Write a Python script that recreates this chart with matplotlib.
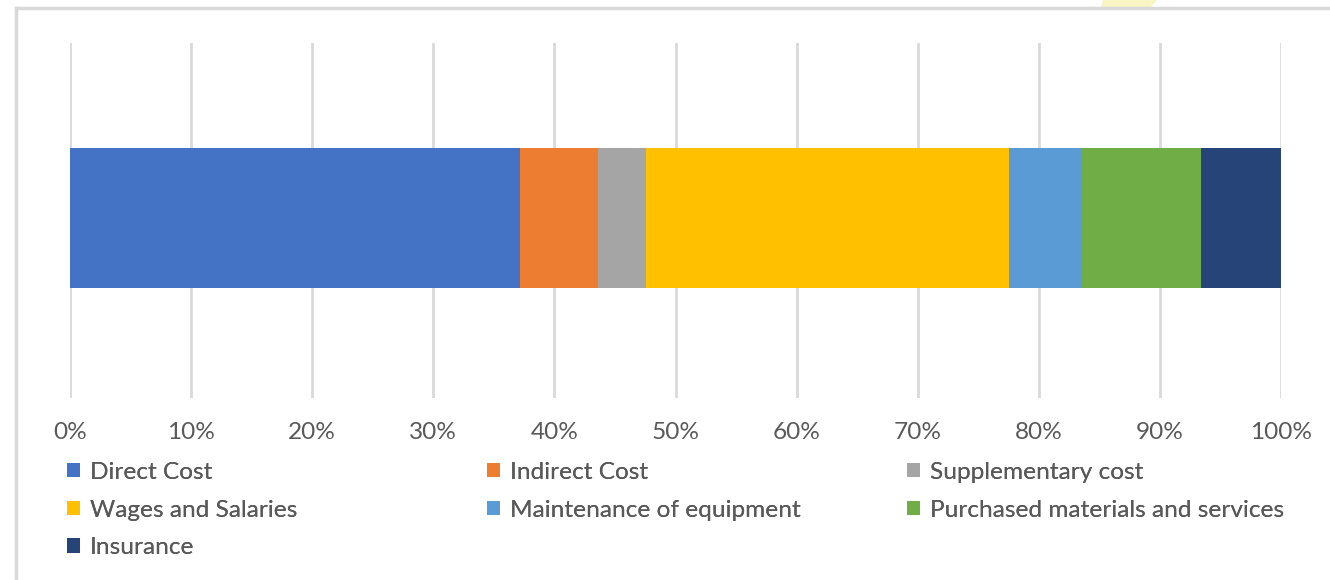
import matplotlib
matplotlib.use('Agg')
import matplotlib.pyplot as plt
from matplotlib.patches import Patch, Polygon
from matplotlib.lines import Line2D
from matplotlib.ticker import FuncFormatter

# cost breakdown, share of total (%)
categories = ['Direct Cost', 'Indirect Cost', 'Supplementary cost',
              'Wages and Salaries', 'Maintenance of equipment',
              'Purchased materials and services', 'Insurance']
shares = [37.2, 6.4, 4.0, 29.9, 6.1, 9.8, 6.6]
colors = ['#4472C4', '#ED7D31', '#A5A5A5', '#FFC000', '#5B9BD5', '#70AD47', '#264478']
xticks = [0, 10, 20, 30, 40, 50, 60, 70, 80, 90, 100]

W, H = 1330, 580
text_col = '#595959'
grid_col = '#d9d9d9'
fsize = 17.6
plt.rcParams['font.family'] = ['Lato', 'DejaVu Sans']

fig = plt.figure(figsize=(W / 100, H / 100), dpi=100)
ax = fig.add_axes([70 / W, 1 - 398 / H, (1281 - 70) / W, (398 - 43) / H])

left = 0
for name, val, col in zip(categories, shares, colors):
    ax.barh(0, val, left=left, height=0.394, color=col, label=name, zorder=3)
    left += val

ax.set_xlim(0, 100)
ax.set_ylim(-0.507, 0.493)
ax.set_xticks(xticks)
ax.xaxis.set_major_formatter(FuncFormatter(lambda v, p: f'{v:.0f}%'))
ax.set_yticks([])
ax.tick_params(axis='x', length=0, pad=17, labelsize=fsize, labelcolor=text_col)
ax.grid(axis='x', color=grid_col, linewidth=2, zorder=0)
for s in ax.spines.values():
    s.set_visible(False)

# legend laid out in three columns, filled row by row
handles = [Patch(facecolor=c, edgecolor='none') for c in colors]
col_x = [67, 487, 907]
for j, x in enumerate(col_x):
    idx = list(range(j, len(categories), 3))
    leg = fig.legend([handles[i] for i in idx], [categories[i] for i in idx],
                     loc='upper left', bbox_to_anchor=(x / W, 1 - 462 / H),
                     frameon=False, fontsize=fsize, labelcolor=text_col,
                     handlelength=0.52, handleheight=0.52, handletextpad=0.42,
                     labelspacing=0.68, borderaxespad=0, borderpad=0)
    fig.add_artist(leg)

# outer chart frame
fig.add_artist(Line2D([16 / W, 1], [1 - 8 / H, 1 - 8 / H], color=grid_col, lw=2.5))
fig.add_artist(Line2D([16 / W, 16 / W], [0, 1 - 8 / H], color=grid_col, lw=2.5))

# faint yellow mark along the top edge
pts = [(1103, 0), (1157, 0), (1150, 8), (1101, 8)]
fig.add_artist(Polygon([(x / W, 1 - y / H) for x, y in pts], closed=True,
                       facecolor='#f8f5c4', edgecolor='none', zorder=0))

fig.savefig('out.png', dpi=100)
